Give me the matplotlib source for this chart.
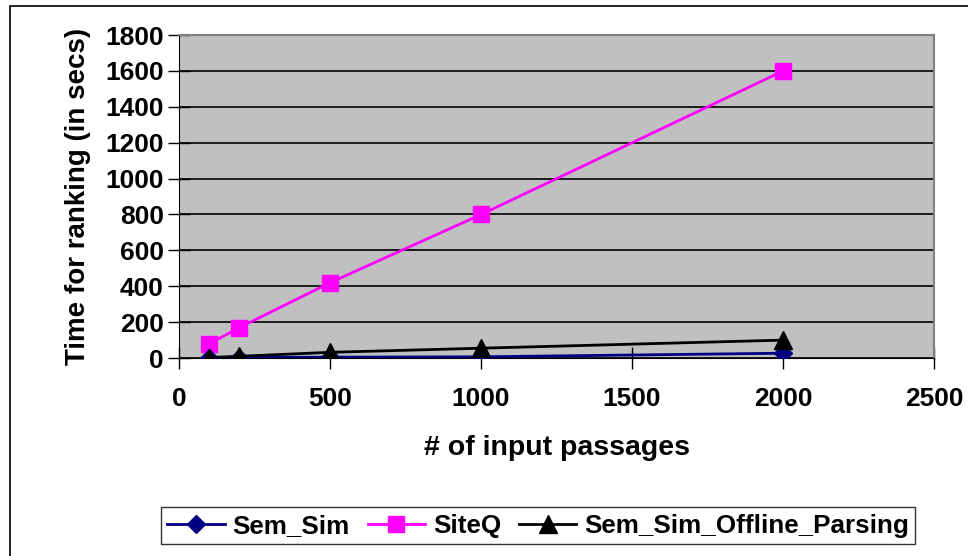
import numpy as np
import matplotlib.pyplot as plt
from matplotlib.patches import Rectangle

plt.rcParams['font.family'] = ['Liberation Sans', 'DejaVu Sans']
plt.rcParams['font.weight'] = 'bold'

passages = [100, 200, 500, 1000, 2000]
sem_sim = [2, 3, 5, 7, 27]
siteq = [80, 170, 420, 800, 1600]
sem_sim_offline = [3, 10, 32, 55, 100]

xticks = [0, 500, 1000, 1500, 2000, 2500]
yticks = [0, 200, 400, 600, 800, 1000, 1200, 1400, 1600, 1800]

fig = plt.figure(figsize=(9.68, 5.56), dpi=100)
ax = fig.add_axes([0.185, 0.356, 0.78, 0.581])
ax.set_facecolor('#C0C0C0')

ax.plot(passages, sem_sim, color='#000080', lw=2, marker='D', ms=9,
        label='Sem_Sim', zorder=4)
ax.plot(passages, siteq, color='#FF00FF', lw=2, marker='s', ms=12,
        label='SiteQ', zorder=3)
ax.plot(passages, sem_sim_offline, color='black', lw=2, marker='^', ms=13,
        label='Sem_Sim_Offline_Parsing', zorder=5)

ax.set_xlim(0, 2500)
ax.set_ylim(0, 1800)
ax.set_xticks(xticks)
ax.set_yticks(yticks)
ax.yaxis.grid(True, color='black', lw=1.2)
ax.set_axisbelow(True)
ax.tick_params(axis='both', direction='inout', length=16, width=1, labelsize=19)
ax.tick_params(axis='x', pad=13)
ax.tick_params(axis='y', pad=3)
for s in ['top', 'right']:
    ax.spines[s].set_color('#808080')
    ax.spines[s].set_linewidth(1.5)
for s in ['left', 'bottom']:
    ax.spines[s].set_color('black')

ax.set_xlabel('# of input passages', fontsize=20.5, fontweight='bold', labelpad=17)
ax.set_ylabel('Time for ranking (in secs)', fontsize=20, fontweight='bold', labelpad=10)

leg = fig.legend(loc='center', bbox_to_anchor=(0.556, 0.054), ncol=3, fontsize=18.7,
                 frameon=True, fancybox=False, edgecolor='black', handlelength=2.2,
                 handletextpad=0.3, columnspacing=0.7, borderpad=0.25)
leg.get_frame().set_linewidth(1)

fig.patches.append(Rectangle((10 / 968, -0.5), 2, 1.5 - 6 / 556, transform=fig.transFigure,
                             fill=False, edgecolor='black', lw=1.2))

fig.savefig('out.png', dpi=100)
